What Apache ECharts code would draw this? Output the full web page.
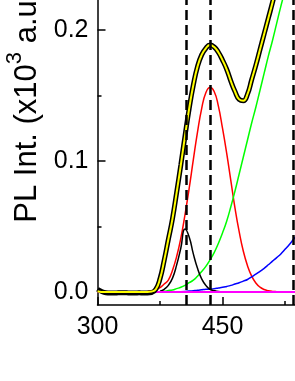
<!DOCTYPE html>
<html><head><meta charset="utf-8">
<script src="https://cdn.jsdelivr.net/npm/echarts@6/dist/echarts.min.js"></script>
<style>html,body{margin:0;padding:0;background:#fff}#c{width:295px;height:381px}</style>
</head><body><div id="c"></div>
<script>
const wavelengths = [300,305,310,315,320,325,330,335,340,345,350,355,360,365,370,375,380,385,390,395,400,405,410,415,420,425,430,435,440,445,450,455,460,465,470,475,480,485,490,495,500,505,510,515,520,525,530,535,540];
const measured = [0.002,0.0003,-0.0006,-0.0008,-0.0008,-0.0007,-0.0006,-0.0007,-0.0008,-0.0008,-0.0007,-0.0008,-0.0008,-0.0005,0.002,0.010,0.024,0.040,0.056,0.076,0.097,0.119,0.140,0.158,0.172,0.181,0.186,0.1885,0.187,0.183,0.177,0.170,0.161,0.153,0.147,0.146,0.151,0.162,0.173,0.185,0.197,0.209,0.221,0.234,0.247,0.259,0.271,0.283,0.294];
const fitTotal = [0.0005,0,0,0,0,0,0,0,0,0,0,0,0,0.0003,0.002,0.010,0.024,0.040,0.056,0.076,0.097,0.119,0.140,0.158,0.172,0.181,0.186,0.1885,0.187,0.183,0.177,0.170,0.161,0.153,0.147,0.146,0.151,0.162,0.173,0.185,0.197,0.209,0.221,0.234,0.247,0.259,0.271,0.283,0.294];
const peak1 = [null,null,null,null,null,null,null,null,null,null,null,null,null,null,null,0.0005,0.002,0.005,0.0105,0.0206,0.0335,0.048,0.042,0.029,0.018,0.010,0.005,0.002,0.001,0.0003,0,null,null,null,null,null,null,null,null,null,null,null,null,null,null,null,null,null,null];
const peak2 = [null,null,null,null,null,null,null,null,null,null,null,null,0.0003,0.0008,0.0016,0.0032,0.006,0.009,0.0165,0.027,0.041,0.059,0.079,0.101,0.122,0.140,0.152,0.156,0.153,0.142,0.125,0.106,0.085,0.064,0.046,0.031,0.020,0.012,0.0068,0.0036,0.0018,0.0009,0.0004,0.0002,0.0001,0,0,0,0];
const peak3 = [null,null,null,null,null,null,null,null,null,null,null,null,null,null,null,0.0003,0.0005,0.001,0.0015,0.0025,0.0035,0.005,0.007,0.009,0.012,0.0155,0.0195,0.0245,0.030,0.037,0.045,0.054,0.065,0.077,0.090,0.103,0.116,0.129,0.141,0.154,0.167,0.180,0.192,0.205,0.218,0.230,0.241,0.252,0.262];
const peak4 = [null,null,null,null,null,null,null,null,null,null,null,null,null,null,null,null,null,null,null,null,0.0002,0.0004,0.0006,0.0009,0.0012,0.0016,0.002,0.0022,0.0025,0.003,0.0035,0.0042,0.005,0.006,0.007,0.0082,0.0095,0.0115,0.0135,0.0157,0.018,0.0207,0.0235,0.0262,0.029,0.0325,0.036,0.040,0.044];
const baselineX = [300, 540];
const baselineY = [0, 0];
const peakCenters = [406, 435, 535];
const yMajorTicks = [0, 0.1, 0.2, 0.3];
const yMinorTicks = [0.05, 0.15, 0.25];

const pairs = (xs, ys) => xs.map((x, i) => [x, ys[i]]);
const font = 'Liberation Sans, Arial, sans-serif';
const line = (data, color, width, extra) => Object.assign({
  type: 'line', data, smooth: true, symbol: 'none', showSymbol: false,
  lineStyle: { color, width }, itemStyle: { color }, silent: true, clip: false
}, extra || {});

const chart = echarts.init(document.getElementById('c'), null, { renderer: 'canvas' });
chart.setOption({
  animation: false,
  backgroundColor: '#fff',
  grid: { left: 97.5, right: -52.5, top: -101, bottom: 76, containLabel: false, outerBoundsMode: 'none' },
  xAxis: {
    type: 'value', min: 300, max: 600, interval: 150,
    axisLine: { show: true, onZero: false, lineStyle: { color: '#000', width: 1.5 } },
    axisTick: { show: true, inside: true, length: 8, lineStyle: { color: '#000', width: 1.5 } },
    minorTick: { show: true, splitNumber: 2, length: 4, lineStyle: { color: '#000', width: 1.5 } },
    axisLabel: { fontSize: 25, color: '#000', margin: 10, fontFamily: font },
    splitLine: { show: false }, minorSplitLine: { show: false }
  },
  yAxis: [{
    type: 'value', min: -0.01, max: 0.3, position: 'left',
    axisLine: { show: true, onZero: false, lineStyle: { color: '#000', width: 1.5 } },
    axisTick: { show: true, inside: true, length: 8, customValues: yMajorTicks, lineStyle: { color: '#000', width: 1.5 } },
    axisLabel: { fontSize: 25, color: '#000', margin: 9, fontFamily: font, customValues: yMajorTicks, formatter: v => v.toFixed(1) },
    splitLine: { show: false },
    name: '{a|PL Int. (x10}{s|3}{a| a.u.)}',
    nameLocation: 'middle', nameRotate: 90, nameGap: 37,
    nameTextStyle: {
      fontFamily: font, color: '#000', fontSize: 31,
      rich: {
        a: { fontSize: 31, fontFamily: font, color: '#000', lineHeight: 46 },
        s: { fontSize: 22, fontFamily: font, color: '#000', lineHeight: 20, verticalAlign: 'top' }
      }
    }
  }, {
    type: 'value', min: -0.01, max: 0.3, position: 'left', offset: 0,
    axisLine: { show: false, onZero: false },
    axisTick: { show: true, inside: true, length: 4, customValues: yMinorTicks, lineStyle: { color: '#000', width: 1.5 } },
    axisLabel: { show: false },
    splitLine: { show: false }
  }],
  series: [
    line(pairs(wavelengths, peak2), '#ff0000', 1.5),
    line(pairs(wavelengths, peak3), '#00ff00', 1.5),
    line(pairs(wavelengths, peak4), '#0000ff', 1.5),
    line(pairs(wavelengths, peak1), '#000000', 1.5),
    line(pairs(baselineX, baselineY), '#ff00ff', 2, {
      markLine: {
        silent: true, symbol: 'none', animation: false,
        label: { show: false },
        lineStyle: { color: '#000', width: 2.5, type: [10, 5] },
        data: peakCenters.map(v => ({ xAxis: v }))
      }
    }),
    line(pairs(wavelengths, measured), '#000000', 5),
    line(pairs(wavelengths, fitTotal), '#ffff00', 2)
  ]
});
</script>
</body></html>
